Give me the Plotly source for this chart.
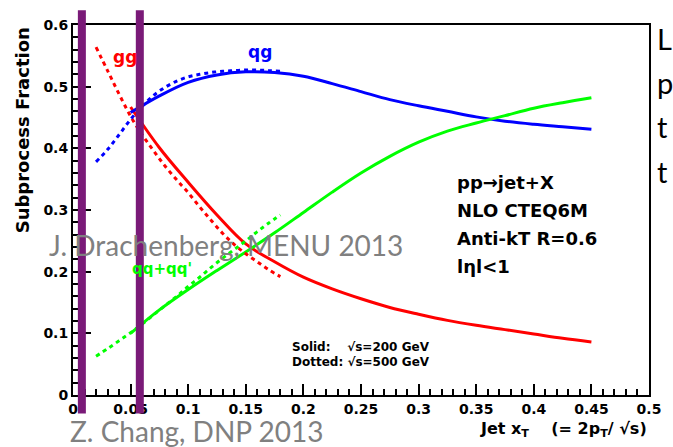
import plotly.graph_objects as go

# Subprocess fractions vs jet x_T, NLO CTEQ6M, anti-kT R=0.6, |eta|<1
xt_200 = [0.05, 0.075, 0.1, 0.125, 0.15, 0.175, 0.2, 0.225, 0.25, 0.275,
          0.3, 0.325, 0.35, 0.375, 0.4, 0.425, 0.45]
gg_200 = [0.467, 0.401, 0.345, 0.292, 0.245, 0.216, 0.191, 0.172, 0.156, 0.142,
          0.131, 0.121, 0.113, 0.106, 0.099, 0.092, 0.086]
qg_200 = [0.458, 0.485, 0.507, 0.519, 0.524, 0.523, 0.517, 0.505, 0.492, 0.479,
          0.469, 0.460, 0.451, 0.444, 0.439, 0.435, 0.431]
qq_200 = [0.100, 0.138, 0.171, 0.202, 0.232, 0.263, 0.296, 0.329, 0.360, 0.387,
          0.410, 0.428, 0.441, 0.453, 0.465, 0.474, 0.482]

xt_500 = [0.02, 0.03, 0.04, 0.05, 0.06, 0.07, 0.08, 0.09, 0.1, 0.11, 0.12,
          0.13, 0.14, 0.15, 0.16, 0.17, 0.18]
gg_500 = [0.564, 0.526, 0.488, 0.452, 0.422, 0.396, 0.371, 0.349, 0.328, 0.305,
          0.283, 0.262, 0.244, 0.229, 0.216, 0.203, 0.192]
qg_500 = [0.378, 0.398, 0.422, 0.447, 0.468, 0.486, 0.499, 0.509, 0.516, 0.520,
          0.523, 0.525, 0.526, 0.527, 0.527, 0.526, 0.525]
qq_500 = [0.063, 0.075, 0.088, 0.101, 0.115, 0.130, 0.145, 0.160, 0.176, 0.191,
          0.207, 0.222, 0.236, 0.250, 0.265, 0.279, 0.292]

x_ticks = [0, 0.05, 0.1, 0.15, 0.2, 0.25, 0.3, 0.35, 0.4, 0.45, 0.5]
x_tick_text = ["0", "0.05", "0.1", "0.15", "0.2", "0.25", "0.3", "0.35", "0.4", "0.45", "0.5"]
y_ticks = [0, 0.1, 0.2, 0.3, 0.4, 0.5, 0.6]
y_tick_text = ["0", "0.1", "0.2", "0.3", "0.4", "0.5", "0.6"]

# x_T values marked with vertical purple bands
marker_xt = [0.0077, 0.0580]

RED, BLUE, GREEN = "#ff0000", "#0000ff", "#00ff00"
PURPLE = "#7a1a78"
FONT = "DejaVu Sans"

fig = go.Figure()

for xs, ys, col in [(xt_200, gg_200, RED), (xt_200, qg_200, BLUE), (xt_200, qq_200, GREEN)]:
    fig.add_trace(go.Scatter(x=xs, y=ys, mode="lines",
                             line=dict(color=col, width=3, shape="spline"),
                             showlegend=False, hoverinfo="skip"))
for xs, ys, col in [(xt_500, gg_500, RED), (xt_500, qg_500, BLUE), (xt_500, qq_500, GREEN)]:
    fig.add_trace(go.Scatter(x=xs, y=ys, mode="lines",
                             line=dict(color=col, width=3, shape="spline", dash="4px,4px"),
                             showlegend=False, hoverinfo="skip"))

shapes = []
for xv in marker_xt:
    shapes.append(dict(type="line", xref="x", yref="paper", x0=xv, x1=xv,
                       y0=-0.05, y1=1.04, line=dict(color=PURPLE, width=8), layer="above"))

annotations = [
    dict(text="gg", x=0.045, y=0.548, font=dict(color=RED, size=17, weight="bold")),
    dict(text="qg", x=0.162, y=0.556, font=dict(color=BLUE, size=17, weight="bold")),
    dict(text="qq+qq'", x=0.077, y=0.205, font=dict(color=GREEN, size=15, weight="bold")),
    dict(text="pp→jet+X", x=0.332, y=0.345, xanchor="left",
         font=dict(color="black", size=18, weight="bold")),
    dict(text="NLO CTEQ6M", x=0.332, y=0.299, xanchor="left",
         font=dict(color="black", size=18, weight="bold")),
    dict(text="Anti-kT R=0.6", x=0.332, y=0.253, xanchor="left",
         font=dict(color="black", size=18, weight="bold")),
    dict(text="lηl<1", x=0.332, y=0.208, xanchor="left",
         font=dict(color="black", size=18, weight="bold")),
    dict(text="Solid:    √s=200 GeV", x=0.188, y=0.078, xanchor="left",
         font=dict(color="black", size=12, weight="bold")),
    dict(text="Dotted: √s=500 GeV", x=0.188, y=0.053, xanchor="left",
         font=dict(color="black", size=12, weight="bold")),
]
for a in annotations:
    a.update(xref="x", yref="y", showarrow=False, font_family=FONT)

# axis titles, aligned to the far end of each axis as in ROOT
annotations += [
    dict(text="Subprocess Fraction", xref="paper", yref="paper", x=-0.088, y=1.0,
         xanchor="center", yanchor="top", textangle=-90, showarrow=False,
         font=dict(family=FONT, size=18, color="black", weight="bold")),
    dict(text="Jet x<sub>T</sub>    (= 2p<sub>T</sub>/ √s)", xref="paper", yref="paper",
         x=1.0, y=-0.06, xanchor="right", yanchor="top", showarrow=False,
         font=dict(family=FONT, size=16, color="black", weight="bold")),
]

# talk credits and slide text around the plot
annotations += [
    dict(text="J. Drachenberg, MENU 2013", xref="paper", yref="paper", x=-0.045, y=0.405,
         xanchor="left", yanchor="middle", showarrow=False,
         font=dict(family="Lato", size=28, color="#808080")),
    dict(text="Z. Chang, DNP 2013", xref="paper", yref="paper", x=-0.008, y=-0.097,
         xanchor="left", yanchor="middle", showarrow=False,
         font=dict(family="Lato", size=28, color="#808080")),
]
for letter, yp in zip(["L", "p", "t", "t"], [39, 83, 127, 171]):
    annotations.append(dict(text=letter, xref="paper", yref="paper",
                            x=(663 - 73) / 584, y=(395 - yp) / 370,
                            xanchor="left", yanchor="middle", showarrow=False,
                            font=dict(family="Lato", size=29, color="black")))

fig.update_layout(
    width=673, height=447,
    margin=dict(l=73, r=16, t=25, b=52),
    paper_bgcolor="white", plot_bgcolor="white",
    shapes=shapes, annotations=annotations,
    xaxis=dict(range=[0, 0.5], tickvals=x_ticks, ticktext=x_tick_text,
               ticks="inside", ticklen=11, tickwidth=1.5, tickcolor="black",
               minor=dict(dtick=0.01, ticks="inside", ticklen=6, tickwidth=1.5, tickcolor="black"),
               showline=True, linecolor="black", linewidth=2, mirror=True,
               showgrid=False, zeroline=False,
               tickfont=dict(family=FONT, size=14, color="black", weight="bold")),
    yaxis=dict(range=[0, 0.6], tickvals=y_ticks, ticktext=y_tick_text,
               ticks="inside", ticklen=18, tickwidth=1.5, tickcolor="black",
               minor=dict(dtick=0.02, ticks="inside", ticklen=9, tickwidth=1.5, tickcolor="black"),
               showline=True, linecolor="black", linewidth=2, mirror=True,
               showgrid=False, zeroline=False,
               tickfont=dict(family=FONT, size=14, color="black", weight="bold")),
)

fig.write_html("out.html")
